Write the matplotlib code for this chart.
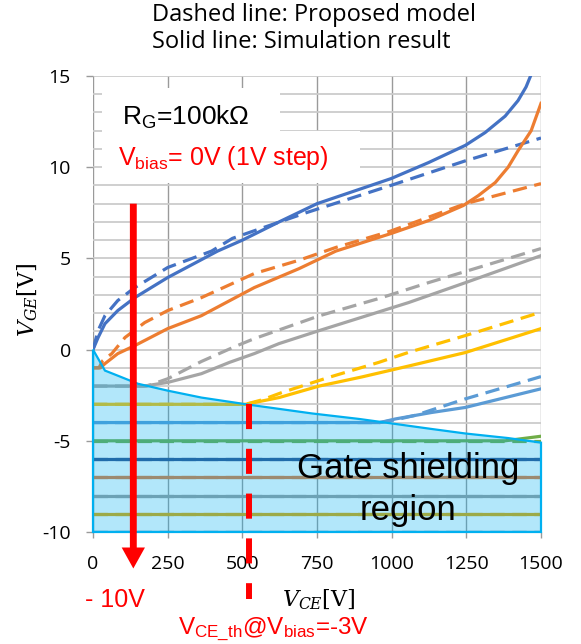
import matplotlib.pyplot as plt
from matplotlib.patches import Polygon, Rectangle
from matplotlib.ticker import MultipleLocator

plt.rcParams['mathtext.fontset'] = 'custom'
plt.rcParams['mathtext.rm'] = 'Liberation Sans'
plt.rcParams['mathtext.it'] = 'Liberation Sans:italic'
plt.rcParams['mathtext.bf'] = 'Liberation Sans:bold'

# V_GE against V_CE, one curve per bias step (solid = simulation, dashed = model)
bias_levels = [0, -1, -2, -3, -4, -5, -6, -7, -8, -9, -10]
bias_colors = ['#4472C4', '#ED7D31', '#A5A5A5', '#FFC000', '#5B9BD5', '#70AD47',
               '#2E4F8C', '#E07B39', '#9C9C9C', '#E0A800', '#255E91']

sim_0_x = [0, 17, 40, 83, 140, 250, 417, 500, 623, 750, 997, 1123, 1247, 1313, 1380, 1423, 1450, 1470]
sim_0_y = [0, 0.66, 1.42, 2.14, 2.85, 3.95, 5.4, 6.0, 7.0, 8.0, 9.37, 10.25, 11.2, 11.9, 12.8, 13.65, 14.4, 15.2]
mod_0_x = [0, 17, 40, 83, 140, 250, 397, 467, 713, 997, 1247, 1500]
mod_0_y = [0, 1.04, 1.86, 2.69, 3.4, 4.5, 5.4, 6.1, 7.5, 9.0, 10.35, 11.6]

sim_1_x = [0, 25, 40, 83, 140, 250, 363, 540, 690, 813, 997, 1123, 1240, 1290, 1347, 1390, 1423, 1467, 1500]
sim_1_y = [-1, -1, -0.77, -0.22, 0.22, 1.15, 1.86, 3.4, 4.44, 5.4, 6.36, 7.07, 7.9, 8.44, 9.16, 10.0, 10.9, 12.0, 13.5]
mod_1_x = [0, 20, 33, 63, 107, 173, 250, 363, 540, 690, 813, 997, 1247, 1500]
mod_1_y = [-1, -1, -0.6, -0.22, 0.66, 1.48, 2.14, 2.85, 4.17, 4.9, 5.6, 6.5, 8.0, 9.1]

sim_2_x = [0, 170, 250, 363, 457, 540, 623, 757, 1057, 1247, 1500]
sim_2_y = [-2, -2, -1.8, -1.32, -0.7, -0.22, 0.33, 1.04, 2.58, 3.67, 5.15]
mod_2_x = [0, 180, 250, 363, 480, 540, 757, 957, 1123, 1500]
mod_2_y = [-2, -2, -1.6, -0.65, 0.2, 0.6, 1.85, 2.8, 3.67, 5.54]

sim_3_x = [0, 510, 623, 757, 900, 1057, 1247, 1500]
sim_3_y = [-3, -3, -2.63, -2.0, -1.5, -0.9, -0.16, 1.15]
mod_3_x = [0, 510, 567, 633, 790, 957, 1057, 1247, 1500]
mod_3_y = [-3, -3, -2.75, -2.35, -1.52, -0.7, -0.15, 0.77, 2.05]

sim_4_x = [0, 960, 1013, 1133, 1247, 1500]
sim_4_y = [-4, -4, -3.8, -3.45, -3.17, -2.15]
mod_4_x = [0, 960, 1013, 1080, 1247, 1500]
mod_4_y = [-4, -4, -3.85, -3.6, -2.7, -1.48]

sim_5_x = [0, 1380, 1500]
sim_5_y = [-5, -5, -4.75]

vce_range = [0, 1500]

# edge of the gate shielding region
shield_x = [0, 40, 83, 150, 250, 363, 473, 513, 733, 890, 1023, 1133, 1247, 1390, 1500]
shield_y = [0, -1.15, -1.43, -1.87, -2.25, -2.63, -2.9, -3.0, -3.5, -3.8, -4.1, -4.35, -4.6, -4.85, -5.1]

# sweep arrow and the V_CE threshold marker at V_bias = -3 V
arrow_vce, arrow_top, arrow_tip = 135, 8.0, -12.0
vce_th, vce_th_bottom = 523, -13.65

x_ticks = [0, 250, 500, 750, 1000, 1250, 1500]
y_ticks = [-10, -5, 0, 5, 10, 15]
y_tick_labels = ['-10', '-5', '0', '5', '10', '15']

W, H = 581, 644
fig = plt.figure(figsize=(W / 100, H / 100), dpi=100)
ax = fig.add_axes([93 / W, 1 - 532 / H, 448 / W, 456 / H])
ax.set_xlim(0, 1500)
ax.set_ylim(-10, 15)

curves = [(sim_0_x, sim_0_y, mod_0_x, mod_0_y),
          (sim_1_x, sim_1_y, mod_1_x, mod_1_y),
          (sim_2_x, sim_2_y, mod_2_x, mod_2_y),
          (sim_3_x, sim_3_y, mod_3_x, mod_3_y),
          (sim_4_x, sim_4_y, mod_4_x, mod_4_y),
          (sim_5_x, sim_5_y, vce_range, [bias_levels[5]] * 2)]
for i, level in enumerate(bias_levels):
    col = bias_colors[i]
    if i < len(curves):
        sx, sy, mx, my = curves[i]
    else:
        sx = mx = vce_range
        sy = my = [level] * 2
    ax.plot(sx, sy, color=col, lw=2.3, zorder=3)
    ax.plot(mx, my, color=col, lw=2.3, dashes=(4.5, 2.4), zorder=3)

# shaded gate shielding region, drawn over the curves
verts = list(zip(shield_x, shield_y)) + [(vce_range[1], -10), (vce_range[0], -10)]
ax.add_patch(Polygon(verts, closed=True, facecolor=(0, 176 / 255, 240 / 255, 0.3),
                     edgecolor='#00B0F0', lw=1.6, zorder=4, clip_on=False))

# red annotations
ax.arrow(arrow_vce, arrow_top, 0, arrow_tip - arrow_top, width=23, head_width=78,
         head_length=1.15, length_includes_head=True, color='#FF0000', lw=0,
         zorder=6, clip_on=False)
ax.plot([vce_th, vce_th], [sim_3_y[1], vce_th_bottom], color='#FF0000', lw=4.3,
        dashes=(4.2, 3.3), zorder=6, clip_on=False)

# grid and ticks
ax.set_axisbelow(True)
ax.set_xticks(x_ticks)
ax.set_yticks(y_ticks, y_tick_labels)
ax.yaxis.set_minor_locator(MultipleLocator(1))
ax.grid(axis='x', which='major', color='#9A9A9A', lw=1.0)
ax.grid(axis='y', which='both', color='#CBCBCB', lw=1.3)
for s in ax.spines.values():
    s.set_visible(False)
ax.tick_params(axis='y', which='major', length=5, width=1, color='#9A9A9A', pad=11,
               labelsize=14)
ax.tick_params(axis='y', which='minor', length=0)
ax.tick_params(axis='x', length=4, width=1, color='#9A9A9A', pad=12.5, labelsize=14)
for lab in ax.get_xticklabels() + ax.get_yticklabels():
    lab.set_family('Open Sans')

# white backgrounds behind the in-plot labels
ax.add_patch(Rectangle((0.02, 0.879), 0.397, 0.095, transform=ax.transAxes,
                       facecolor='white', edgecolor='none', zorder=1))
ax.add_patch(Rectangle((0.02, 0.766), 0.575, 0.113, transform=ax.transAxes,
                       facecolor='white', edgecolor='none', zorder=1))


def px(x, y):
    return x / W, 1 - y / H


fig.text(*px(152, 21), 'Dashed line: Proposed model', family='Open Sans', fontsize=17,
         va='baseline')
fig.text(*px(152, 48), 'Solid line: Simulation result', family='Open Sans', fontsize=17,
         va='baseline')
fig.text(*px(122, 125), r'R$_\mathrm{G}$=100kΩ', family='Liberation Sans', fontsize=19,
         va='baseline')
fig.text(*px(118, 165), r'V$_\mathrm{bias}$= 0V (1V step)', family='Liberation Sans',
         fontsize=18, color='#FF0000', va='baseline')
fig.text(*px(408, 478), 'Gate shielding', family='Liberation Sans', fontsize=25,
         ha='center', va='baseline', zorder=7)
fig.text(*px(408, 520), 'region', family='Liberation Sans', fontsize=25,
         ha='center', va='baseline', zorder=7)
fig.text(*px(85, 607), '- 10V', family='Liberation Sans', fontsize=18, color='#FF0000',
         va='baseline')
fig.text(*px(178, 634), r'V$_\mathrm{CE\_th}$@V$_\mathrm{bias}$=-3V',
         family='Liberation Sans', fontsize=17.5, color='#FF0000', va='baseline')
fig.text(*px(282, 606), r'$V_{CE}$[V]', family='DejaVu Serif', math_fontfamily='dejavuserif',
         fontsize=16, va='baseline')
fig.text(*px(28, 300), r'$V_{GE}$[V]', family='DejaVu Serif', math_fontfamily='dejavuserif',
         fontsize=16, rotation=90, ha='center', va='center')

fig.savefig('out.png', dpi=100)
